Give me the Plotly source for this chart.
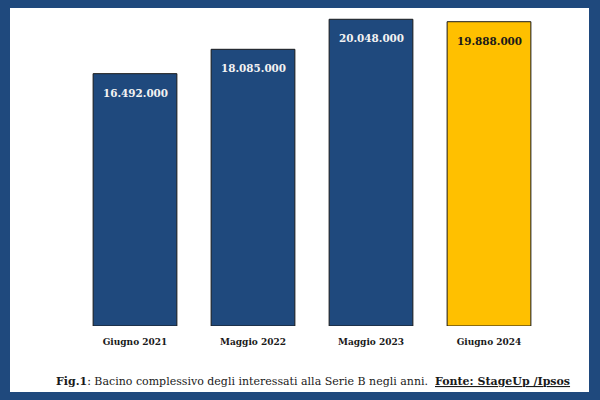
import plotly.graph_objects as go

categories = ["Giugno 2021", "Maggio 2022", "Maggio 2023", "Giugno 2024"]
values = [16.492, 18.085, 20.048, 19.888]  # milioni
value_labels = ["16.492.000", "18.085.000", "20.048.000", "19.888.000"]
bar_colors = ["#1f497d", "#1f497d", "#1f497d", "#ffc000"]
label_colors = ["#f2f2f2", "#f2f2f2", "#f2f2f2", "#1a1a1a"]

FONT = "DejaVu Serif"
FRAME = "#1f497d"

fig = go.Figure()
fig.add_trace(go.Bar(
    x=categories, y=values,
    marker=dict(color=bar_colors, line=dict(color="#1a1a1a", width=1)),
    width=0.71, hoverinfo="skip",
))

for c, v, t, col in zip(categories, values, value_labels, label_colors):
    fig.add_annotation(x=c, y=v, text=f"<b>{t}</b>", showarrow=False,
                       yshift=-19, font=dict(family=FONT, size=10.4, color=col))

L, R, T, B = 76, 52, 14, 74
W, H = 600, 400
pw, ph = W - L - R, H - T - B

def px_x(p):
    return (p - L) / pw

def px_y(p):
    return (H - B - p) / ph

fig.add_shape(type="rect", xref="paper", yref="paper",
              x0=px_x(10), x1=px_x(589), y0=px_y(392), y1=px_y(8),
              fillcolor="white", line=dict(width=0), layer="below")

fig.add_annotation(
    xref="paper", yref="paper", x=px_x(313), y=px_y(381),
    text="<b>Fig.1</b>: Bacino complessivo degli interessati alla Serie B negli anni.  <b><u>Fonte: StageUp /Ipsos</u></b>",
    showarrow=False, xanchor="center", yanchor="middle",
    font=dict(family=FONT, size=11, color="#1a1a1a"))

fig.update_layout(
    width=W, height=H,
    margin=dict(l=L, r=R, t=T, b=B),
    paper_bgcolor=FRAME, plot_bgcolor="rgba(0,0,0,0)",
    showlegend=False,
    xaxis=dict(showgrid=False, showline=False, zeroline=False, ticks="",
               range=[-0.5, 3.5],
               tickfont=dict(family=FONT, size=9, color="#1a1a1a"),
               tickprefix="<b>", ticksuffix="</b>", ticklabelstandoff=9),
    yaxis=dict(range=[0, ph / 15.3], visible=False, fixedrange=True),
)

fig.write_html("out.html", config={"displayModeBar": False},
               post_script="document.body.style.margin='0';document.body.style.overflow='hidden';")
